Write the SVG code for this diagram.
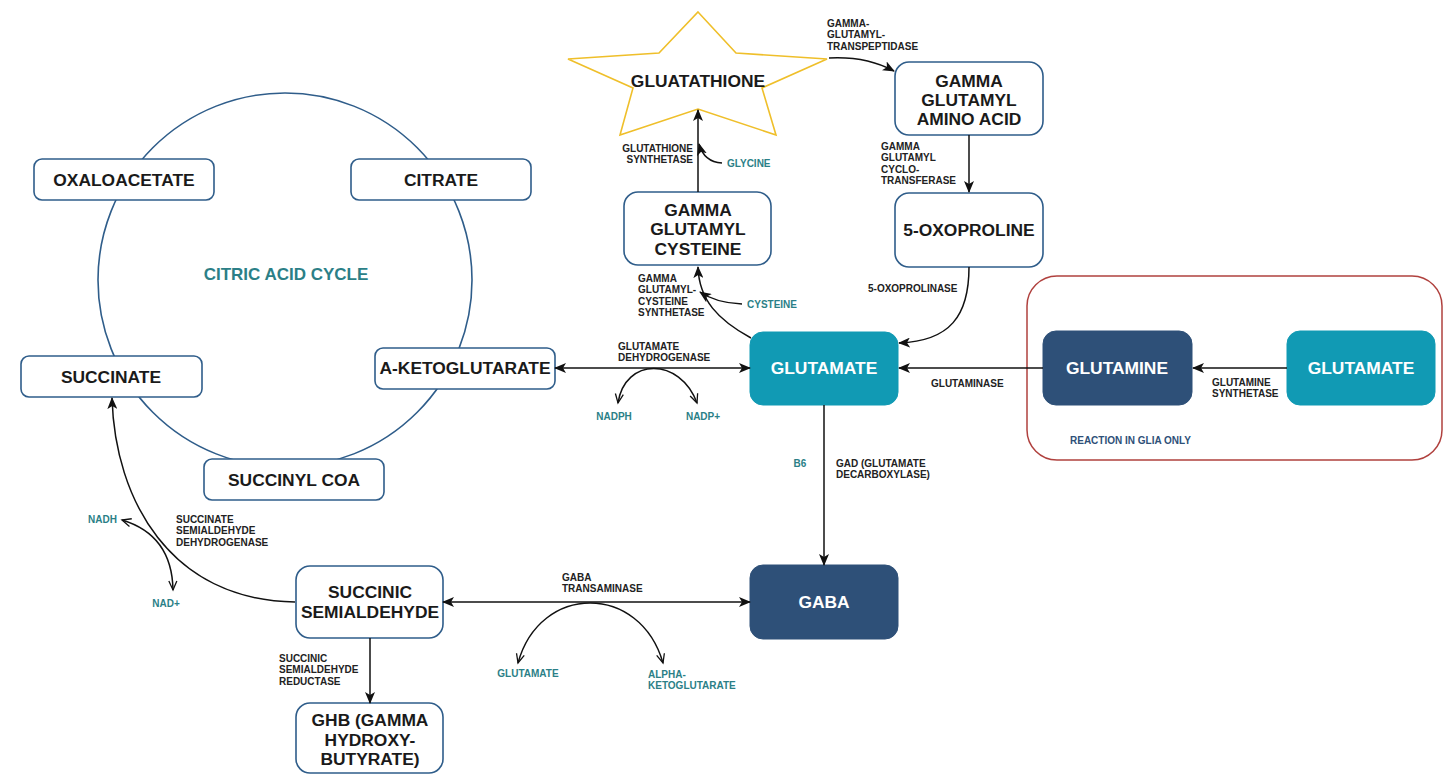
<svg xmlns="http://www.w3.org/2000/svg" width="1444" height="774" viewBox="0 0 1444 774">
  <defs>
    <marker id="head" viewBox="0 0 12 10" refX="11" refY="5" markerWidth="12" markerHeight="10" markerUnits="userSpaceOnUse" orient="auto-start-reverse">
      <path d="M0,0 L12,5 L0,10 L3,5 z" fill="#111"/>
    </marker>
    <marker id="open" viewBox="0 0 12 10" refX="10" refY="5" markerWidth="12" markerHeight="10" markerUnits="userSpaceOnUse" orient="auto-start-reverse">
      <path d="M1,1 L10,5 L1,9" fill="none" stroke="#111" stroke-width="1.3"/>
    </marker>
    <style>
      .node { fill: #ffffff; stroke: #2f5d8a; stroke-width: 1.6; }
      .teal { fill: #119ab4; stroke: #119ab4; }
      .navy { fill: #2e5078; stroke: #2e5078; }
      .big { font-family: "Liberation Sans", Arial, sans-serif; font-weight: bold; font-size: 17.4px; fill: #1a1a1a; text-anchor: middle; }
      .big.w { fill: #ffffff; }
      .lbl { font-family: "Liberation Sans", Arial, sans-serif; font-weight: bold; font-size: 10px; fill: #222222; }
      .cof { font-family: "Liberation Sans", Arial, sans-serif; font-weight: bold; font-size: 10px; fill: #2b7f87; }
      .edge { fill: none; stroke: #111; stroke-width: 1.5; }
    </style>
  </defs>

  <rect width="1444" height="774" fill="#ffffff"/>

  <!-- citric acid cycle ring -->
  <g id="cycle">
    <circle cx="285" cy="280" r="187" fill="none" stroke="#2f5d8a" stroke-width="1.6"/>
    <text x="286" y="280" font-family="Liberation Sans, Arial, sans-serif" font-weight="bold" font-size="17" fill="#2b7f87" text-anchor="middle">CITRIC ACID CYCLE</text>
  </g>

  <g id="oxaloacetate">
    <rect class="node" x="34" y="159" width="180" height="41" rx="8"/>
    <text class="big" x="124" y="186">OXALOACETATE</text>
  </g>
  <g id="citrate">
    <rect class="node" x="351" y="159" width="180" height="41" rx="8"/>
    <text class="big" x="441" y="186">CITRATE</text>
  </g>
  <g id="succinate">
    <rect class="node" x="21" y="356" width="181" height="41" rx="8"/>
    <text class="big" x="111" y="383">SUCCINATE</text>
  </g>
  <g id="a-ketoglutarate">
    <rect class="node" x="375" y="348" width="180" height="41" rx="8"/>
    <text class="big" x="465" y="374">A-KETOGLUTARATE</text>
  </g>
  <g id="succinyl-coa">
    <rect class="node" x="204" y="459" width="180" height="41" rx="8"/>
    <text class="big" x="294" y="486">SUCCINYL COA</text>
  </g>

  <!-- glutathione branch -->
  <g id="glutathione">
    <polygon points="698,12 736,53 827,59 762,88 776,135 698,109 620,135 633,88 568,59 659,53" fill="#ffffff" stroke="#efbf2a" stroke-width="1.6" stroke-linejoin="miter"/>
    <text class="big" x="698" y="87">GLUATATHIONE</text>
  </g>
  <g id="gamma-glutamyl-amino-acid">
    <rect class="node" x="895" y="62" width="148" height="73" rx="14"/>
    <text class="big" x="969" y="86.5">GAMMA</text>
    <text class="big" x="969" y="106">GLUTAMYL</text>
    <text class="big" x="969" y="125">AMINO ACID</text>
  </g>
  <g id="oxoproline">
    <rect class="node" x="895" y="193" width="148" height="74" rx="14"/>
    <text class="big" x="969" y="236">5-OXOPROLINE</text>
  </g>
  <g id="gamma-glutamyl-cysteine">
    <rect class="node" x="624" y="192" width="147" height="73" rx="14"/>
    <text class="big" x="698" y="215.5">GAMMA</text>
    <text class="big" x="698" y="235">GLUTAMYL</text>
    <text class="big" x="698" y="254.5">CYSTEINE</text>
  </g>

  <!-- central glutamate pathway -->
  <g id="glutamate">
    <rect class="teal" x="750" y="332" width="148" height="73" rx="13"/>
    <text class="big w" x="824" y="374">GLUTAMATE</text>
  </g>
  <g id="gaba">
    <rect class="navy" x="750" y="565" width="148" height="74" rx="13"/>
    <text class="big w" x="824" y="608">GABA</text>
  </g>
  <g id="succinic-semialdehyde">
    <rect class="node" x="296" y="566" width="147" height="72" rx="14"/>
    <text class="big" x="370" y="598">SUCCINIC</text>
    <text class="big" x="370" y="618">SEMIALDEHYDE</text>
  </g>
  <g id="ghb">
    <rect class="node" x="296" y="703" width="147" height="70" rx="14"/>
    <text class="big" x="370" y="726">GHB (GAMMA</text>
    <text class="big" x="370" y="746">HYDROXY-</text>
    <text class="big" x="370" y="765">BUTYRATE)</text>
  </g>

  <!-- glial compartment -->
  <g id="glia">
    <rect x="1027" y="276" width="415" height="184" rx="30" fill="none" stroke="#b0413e" stroke-width="1.5"/>
    <text class="lbl" x="1070" y="443.6" style="fill:#2e5078">REACTION IN GLIA ONLY</text>
  </g>
  <g id="glutamine">
    <rect class="navy" x="1043" y="331" width="149" height="74" rx="13"/>
    <text class="big w" x="1117" y="374">GLUTAMINE</text>
  </g>
  <g id="glutamate-glia">
    <rect class="teal" x="1287" y="331" width="148" height="74" rx="13"/>
    <text class="big w" x="1361" y="374">GLUTAMATE</text>
  </g>

  <!-- reactions -->
  <g id="connectors">
    <path class="edge" d="M829,58 Q866,56 894,71" marker-end="url(#head)"/>
    <path class="edge" d="M969,135 L969,192" marker-end="url(#head)"/>
    <path class="edge" d="M969,267 C969,316 950,341 899,343" marker-end="url(#head)"/>
    <path class="edge" d="M698,192 L698,110" marker-end="url(#head)"/>
    <path class="edge" d="M722,163 Q704,162 699,144" marker-end="url(#head)"/>
    <path class="edge" d="M751,338 C718,320 699,300 698,267" marker-end="url(#head)"/>
    <path class="edge" d="M742,304 Q716,303 700,292" marker-end="url(#head)"/>
    <path class="edge" d="M555,368 L750,368" marker-start="url(#head)" marker-end="url(#head)"/>
    <path class="edge" d="M618,403 C625,357 680,357 697,403" marker-start="url(#open)" marker-end="url(#open)"/>
    <path class="edge" d="M1043,368 L899,368" marker-end="url(#head)"/>
    <path class="edge" d="M1287,368 L1193,368" marker-end="url(#head)"/>
    <path class="edge" d="M824,405 L824,565" marker-end="url(#head)"/>
    <path class="edge" d="M443,602 L750,602" marker-start="url(#head)" marker-end="url(#head)"/>
    <path class="edge" d="M518,663 C540,583 640,583 663,663" marker-start="url(#open)" marker-end="url(#open)"/>
    <path class="edge" d="M370,638 L370,703" marker-end="url(#head)"/>
    <path class="edge" d="M295,602 C170,600 115,500 112,398" marker-end="url(#head)"/>
    <path class="edge" d="M122,520 Q172,535 173,590" marker-start="url(#open)" marker-end="url(#open)"/>
  </g>

  <!-- enzyme and cofactor labels -->
  <g id="labels">
    <text class="lbl" x="827" y="26.5">GAMMA-</text>
    <text class="lbl" x="827" y="38">GLUTAMYL-</text>
    <text class="lbl" x="827" y="49.5">TRANSPEPTIDASE</text>

    <text class="lbl" x="693" y="151.5" text-anchor="end">GLUTATHIONE</text>
    <text class="lbl" x="693" y="163" text-anchor="end">SYNTHETASE</text>
    <text class="cof" x="727" y="166.5">GLYCINE</text>

    <text class="lbl" x="881" y="149.5">GAMMA</text>
    <text class="lbl" x="881" y="161">GLUTAMYL</text>
    <text class="lbl" x="881" y="172.5">CYCLO-</text>
    <text class="lbl" x="881" y="184">TRANSFERASE</text>

    <text class="lbl" x="638" y="281.5">GAMMA</text>
    <text class="lbl" x="638" y="293">GLUTAMYL-</text>
    <text class="lbl" x="638" y="304.5">CYSTEINE</text>
    <text class="lbl" x="638" y="316">SYNTHETASE</text>
    <text class="cof" x="747" y="307.5">CYSTEINE</text>

    <text class="lbl" x="868" y="291.5">5-OXOPROLINASE</text>

    <text class="lbl" x="618" y="349.5">GLUTAMATE</text>
    <text class="lbl" x="618" y="361">DEHYDROGENASE</text>
    <text class="cof" x="614" y="419.5" text-anchor="middle">NADPH</text>
    <text class="cof" x="703" y="419.5" text-anchor="middle">NADP+</text>

    <text class="lbl" x="931" y="386.5">GLUTAMINASE</text>
    <text class="lbl" x="1212" y="385.5">GLUTAMINE</text>
    <text class="lbl" x="1212" y="397">SYNTHETASE</text>

    <text class="cof" x="800" y="466.5" text-anchor="middle">B6</text>
    <text class="lbl" x="836" y="466.5">GAD (GLUTAMATE</text>
    <text class="lbl" x="836" y="478">DECARBOXYLASE)</text>

    <text class="lbl" x="562" y="580.5">GABA</text>
    <text class="lbl" x="562" y="592">TRANSAMINASE</text>
    <text class="cof" x="528" y="676.5" text-anchor="middle">GLUTAMATE</text>
    <text class="cof" x="648" y="677.5">ALPHA-</text>
    <text class="cof" x="648" y="689">KETOGLUTARATE</text>

    <text class="lbl" x="279" y="661.5">SUCCINIC</text>
    <text class="lbl" x="279" y="673">SEMIALDEHYDE</text>
    <text class="lbl" x="279" y="684.5">REDUCTASE</text>

    <text class="lbl" x="176" y="522.5">SUCCINATE</text>
    <text class="lbl" x="176" y="534">SEMIALDEHYDE</text>
    <text class="lbl" x="176" y="545.5">DEHYDROGENASE</text>
    <text class="cof" x="88" y="522.5">NADH</text>
    <text class="cof" x="166" y="606.5" text-anchor="middle">NAD+</text>
  </g>
</svg>
